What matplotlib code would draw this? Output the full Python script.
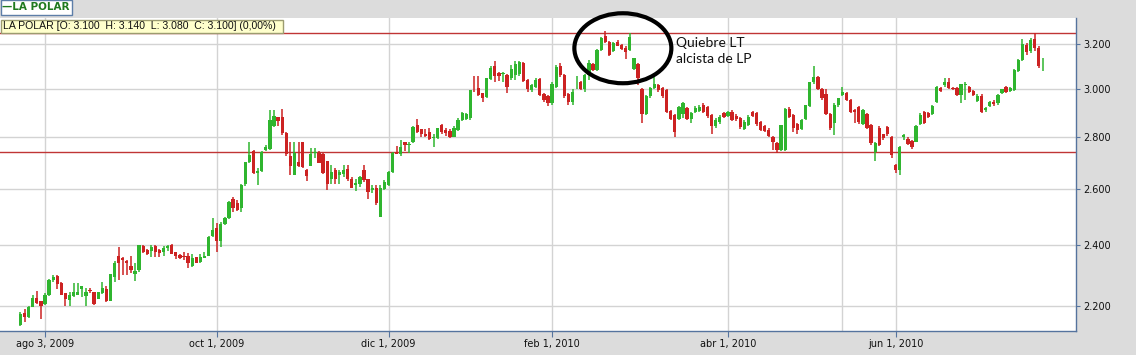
import matplotlib
matplotlib.use("Agg")
import matplotlib.pyplot as plt
import matplotlib.transforms as mtransforms
from matplotlib.patches import Ellipse, Rectangle
from matplotlib.ticker import FixedLocator, NullLocator, FixedFormatter

# daily candles, LA POLAR (jul 2009 - jul 2010)
opens = [
    2.140, 2.176, 2.164, 2.197, 2.223, 2.215, 2.205, 2.234, 2.281, 2.297,
    2.272, 2.239, 2.218, 2.232, 2.235, 2.252, 2.232, 2.248, 2.242, 2.222,
    2.241, 2.252, 2.216, 2.292, 2.363, 2.357, 2.347, 2.330, 2.302, 2.317,
    2.398, 2.383, 2.379, 2.398, 2.383, 2.375, 2.388, 2.400, 2.375, 2.367,
    2.362, 2.362, 2.330, 2.359, 2.343, 2.357, 2.364, 2.431, 2.458, 2.414,
    2.473, 2.494, 2.562, 2.550, 2.530, 2.619, 2.705, 2.747, 2.660, 2.668,
    2.750, 2.756, 2.847, 2.882, 2.882, 2.819, 2.725, 2.655, 2.705, 2.780,
    2.672, 2.688, 2.740, 2.738, 2.736, 2.707, 2.640, 2.672, 2.655, 2.657,
    2.675, 2.640, 2.615, 2.618, 2.672, 2.637, 2.595, 2.605, 2.499, 2.600,
    2.615, 2.665, 2.743, 2.736, 2.780, 2.770, 2.780, 2.850, 2.834, 2.814,
    2.822, 2.797, 2.797, 2.850, 2.830, 2.827, 2.800, 2.830, 2.871, 2.875,
    2.880, 2.997, 3.004, 2.983, 2.966, 3.045, 3.100, 3.073, 3.068, 3.063,
    3.048, 3.063, 3.068, 3.114, 3.040, 2.997, 3.012, 3.045, 2.980, 2.970,
    2.940, 3.010, 3.100, 3.063, 2.980, 2.946, 3.030, 3.030, 3.003, 3.063,
    3.110, 3.085, 3.174, 3.240, 3.212, 3.170, 3.212, 3.197, 3.185, 3.174,
    3.090, 3.110, 3.000, 2.895, 2.970, 3.004, 3.017, 3.004, 2.997, 2.908,
    2.890, 2.877, 2.895, 2.920, 2.875, 2.904, 2.910, 2.934, 2.925, 2.890,
    2.847, 2.862, 2.899, 2.888, 2.904, 2.888, 2.880, 2.835, 2.850, 2.904,
    2.899, 2.862, 2.847, 2.832, 2.800, 2.776, 2.750, 2.750, 2.918, 2.890,
    2.855, 2.835, 2.875, 2.930, 3.030, 3.055, 3.000, 2.980, 2.895, 2.860,
    2.933, 2.975, 2.986, 2.954, 2.912, 2.925, 2.855, 2.895, 2.850, 2.743,
    2.840, 2.812, 2.842, 2.800, 2.690, 2.672, 2.800, 2.794, 2.785, 2.783,
    2.853, 2.903, 2.899, 2.895, 2.946, 3.004, 3.017, 3.032, 3.006, 3.004,
    2.976, 3.020, 3.011, 2.992, 2.950, 2.973, 2.912, 2.929, 2.948, 2.940,
    2.983, 3.011, 2.992, 2.997, 3.080, 3.130, 3.197, 3.170, 3.224, 3.182,
    3.100,
]
highs = [
    2.180, 2.190, 2.200, 2.234, 2.247, 2.216, 2.240, 2.287, 2.300, 2.300,
    2.275, 2.240, 2.245, 2.272, 2.272, 2.263, 2.255, 2.256, 2.244, 2.245,
    2.275, 2.262, 2.303, 2.345, 2.394, 2.360, 2.350, 2.362, 2.338, 2.400,
    2.400, 2.385, 2.400, 2.400, 2.385, 2.397, 2.400, 2.402, 2.375, 2.370,
    2.375, 2.371, 2.370, 2.360, 2.370, 2.375, 2.431, 2.494, 2.478, 2.481,
    2.500, 2.555, 2.572, 2.560, 2.620, 2.705, 2.780, 2.750, 2.680, 2.745,
    2.770, 2.912, 2.912, 2.885, 2.915, 2.820, 2.780, 2.780, 2.780, 2.780,
    2.677, 2.758, 2.758, 2.745, 2.740, 2.708, 2.690, 2.680, 2.672, 2.690,
    2.690, 2.645, 2.640, 2.650, 2.690, 2.640, 2.615, 2.617, 2.615, 2.635,
    2.667, 2.742, 2.765, 2.790, 2.780, 2.780, 2.845, 2.877, 2.836, 2.834,
    2.840, 2.815, 2.840, 2.853, 2.840, 2.834, 2.845, 2.880, 2.902, 2.900,
    2.997, 3.060, 3.060, 2.985, 3.050, 3.100, 3.125, 3.075, 3.075, 3.065,
    3.105, 3.125, 3.125, 3.118, 3.045, 3.025, 3.050, 3.050, 2.985, 2.975,
    3.030, 3.105, 3.115, 3.065, 2.985, 3.000, 3.060, 3.035, 3.065, 3.130,
    3.115, 3.180, 3.235, 3.260, 3.215, 3.210, 3.218, 3.200, 3.190, 3.250,
    3.140, 3.115, 3.005, 2.975, 3.010, 3.060, 3.025, 3.010, 3.000, 2.912,
    2.895, 2.930, 2.945, 2.925, 2.905, 2.930, 2.935, 2.940, 2.930, 2.895,
    2.880, 2.890, 2.905, 2.910, 2.912, 2.895, 2.885, 2.870, 2.890, 2.910,
    2.905, 2.868, 2.850, 2.838, 2.805, 2.780, 2.850, 2.920, 2.925, 2.895,
    2.860, 2.875, 2.935, 3.032, 3.100, 3.060, 3.005, 3.000, 2.900, 2.940,
    2.965, 3.010, 2.990, 2.958, 2.915, 2.930, 2.915, 2.900, 2.855, 2.780,
    2.845, 2.815, 2.845, 2.805, 2.695, 2.765, 2.815, 2.800, 2.790, 2.850,
    2.900, 2.910, 2.905, 2.935, 3.015, 3.010, 3.050, 3.050, 3.010, 3.008,
    3.025, 3.030, 3.015, 2.995, 2.978, 2.978, 2.925, 2.950, 2.955, 2.980,
    3.003, 3.015, 3.008, 3.088, 3.135, 3.224, 3.205, 3.230, 3.253, 3.190,
    3.140,
]
lows = [
    2.137, 2.149, 2.160, 2.195, 2.205, 2.157, 2.203, 2.232, 2.275, 2.252,
    2.233, 2.200, 2.200, 2.228, 2.235, 2.228, 2.200, 2.240, 2.202, 2.220,
    2.238, 2.213, 2.214, 2.276, 2.282, 2.300, 2.300, 2.304, 2.278, 2.310,
    2.372, 2.365, 2.360, 2.360, 2.360, 2.363, 2.380, 2.368, 2.352, 2.352,
    2.350, 2.322, 2.325, 2.338, 2.340, 2.357, 2.362, 2.428, 2.375, 2.392,
    2.470, 2.490, 2.516, 2.520, 2.515, 2.610, 2.700, 2.658, 2.615, 2.665,
    2.745, 2.750, 2.843, 2.845, 2.810, 2.725, 2.655, 2.655, 2.685, 2.680,
    2.630, 2.686, 2.720, 2.698, 2.658, 2.596, 2.620, 2.620, 2.620, 2.645,
    2.630, 2.603, 2.594, 2.607, 2.625, 2.562, 2.585, 2.540, 2.499, 2.595,
    2.612, 2.660, 2.735, 2.728, 2.748, 2.740, 2.776, 2.816, 2.803, 2.800,
    2.790, 2.760, 2.795, 2.815, 2.805, 2.797, 2.800, 2.827, 2.868, 2.870,
    2.870, 2.990, 2.970, 2.944, 2.962, 3.040, 3.030, 3.035, 3.030, 2.986,
    3.040, 3.040, 3.060, 3.030, 2.990, 2.990, 3.005, 2.970, 2.945, 2.930,
    2.935, 3.005, 3.055, 2.965, 2.935, 2.935, 3.000, 2.995, 2.990, 3.040,
    3.080, 3.080, 3.170, 3.205, 3.145, 3.165, 3.190, 3.175, 3.132, 3.170,
    3.085, 3.020, 2.858, 2.890, 2.965, 3.000, 2.990, 2.965, 2.900, 2.870,
    2.800, 2.870, 2.880, 2.870, 2.860, 2.900, 2.905, 2.900, 2.880, 2.815,
    2.840, 2.855, 2.880, 2.885, 2.865, 2.865, 2.835, 2.830, 2.845, 2.885,
    2.845, 2.825, 2.820, 2.800, 2.750, 2.740, 2.745, 2.745, 2.880, 2.820,
    2.815, 2.830, 2.870, 2.925, 3.025, 2.995, 2.955, 2.890, 2.830, 2.810,
    2.925, 2.970, 2.950, 2.900, 2.860, 2.855, 2.850, 2.835, 2.770, 2.708,
    2.765, 2.790, 2.805, 2.720, 2.660, 2.655, 2.790, 2.770, 2.755, 2.780,
    2.850, 2.855, 2.880, 2.890, 2.940, 2.988, 3.012, 3.000, 2.995, 2.970,
    2.940, 2.955, 2.985, 2.970, 2.945, 2.900, 2.905, 2.925, 2.930, 2.935,
    2.978, 2.985, 2.988, 2.993, 3.075, 3.125, 3.150, 3.160, 3.170, 3.095,
    3.080,
]
closes = [
    2.174, 2.164, 2.197, 2.223, 2.208, 2.200, 2.233, 2.281, 2.293, 2.271,
    2.234, 2.221, 2.234, 2.244, 2.245, 2.263, 2.245, 2.246, 2.204, 2.244,
    2.255, 2.216, 2.301, 2.338, 2.338, 2.349, 2.338, 2.315, 2.313, 2.400,
    2.375, 2.369, 2.394, 2.375, 2.374, 2.390, 2.398, 2.370, 2.364, 2.357,
    2.360, 2.338, 2.357, 2.340, 2.360, 2.364, 2.429, 2.452, 2.414, 2.473,
    2.494, 2.552, 2.532, 2.523, 2.615, 2.703, 2.730, 2.660, 2.667, 2.743,
    2.763, 2.871, 2.887, 2.868, 2.819, 2.735, 2.687, 2.737, 2.687, 2.685,
    2.650, 2.736, 2.743, 2.700, 2.660, 2.619, 2.665, 2.638, 2.665, 2.672,
    2.640, 2.606, 2.622, 2.645, 2.634, 2.590, 2.603, 2.548, 2.603, 2.628,
    2.665, 2.738, 2.736, 2.763, 2.770, 2.771, 2.843, 2.822, 2.812, 2.807,
    2.793, 2.798, 2.838, 2.822, 2.817, 2.800, 2.837, 2.871, 2.900, 2.895,
    2.997, 2.995, 2.976, 2.962, 3.050, 3.095, 3.060, 3.058, 3.070, 3.012,
    3.090, 3.112, 3.118, 3.035, 3.003, 3.017, 3.040, 2.976, 2.954, 2.940,
    3.025, 3.096, 3.063, 2.970, 2.946, 2.988, 3.032, 3.003, 3.063, 3.115,
    3.085, 3.174, 3.230, 3.212, 3.150, 3.204, 3.194, 3.180, 3.167, 3.235,
    3.137, 3.047, 2.895, 2.970, 3.004, 3.025, 2.997, 2.970, 2.905, 2.877,
    2.820, 2.925, 2.940, 2.877, 2.899, 2.920, 2.925, 2.904, 2.888, 2.847,
    2.871, 2.884, 2.884, 2.904, 2.871, 2.875, 2.843, 2.862, 2.884, 2.889,
    2.853, 2.832, 2.826, 2.806, 2.780, 2.750, 2.850, 2.918, 2.884, 2.837,
    2.830, 2.871, 2.933, 3.030, 3.055, 3.000, 2.963, 2.895, 2.840, 2.933,
    2.963, 2.990, 2.954, 2.904, 2.904, 2.862, 2.912, 2.840, 2.776, 2.776,
    2.770, 2.796, 2.812, 2.731, 2.672, 2.763, 2.810, 2.773, 2.760, 2.845,
    2.890, 2.860, 2.884, 2.928, 3.011, 2.992, 3.032, 3.004, 3.000, 2.976,
    3.022, 3.022, 2.990, 2.976, 2.973, 2.905, 2.922, 2.944, 2.937, 2.976,
    3.000, 2.990, 3.004, 3.084, 3.130, 3.200, 3.167, 3.220, 3.182, 3.100,
    3.100,
]

# x axis: candle index of the labelled dates
date_ticks = [6, 48, 90, 130, 173, 214]
date_labels = ["ago 3, 2009", "oct 1, 2009", "dic 1, 2009",
               "feb 1, 2010", "abr 1, 2010", "jun 1, 2010"]
extra_vgrid = [201]

price_ticks = [2.2, 2.4, 2.6, 2.8, 3.0, 3.2]
price_labels = ["2.200", "2.400", "2.600", "2.800", "3.000", "3.200"]

resistance = 3.251
support = 2.741

info_text = "LA POLAR [O: 3.100  H: 3.140  L: 3.080  C: 3.100] (0,00%)"
note_text = "Quiebre LT\nalcista de LP"

green = "#2fb52f"
red = "#cc2222"
axis_blue = "#55739e"
grid_col = "#d3d3d3"

W, H = 1136, 355
fig = plt.figure(figsize=(W / 100, H / 100), dpi=100, facecolor="#dcdcdc")
ax = fig.add_axes([0, 24 / H, 1076 / W, 313 / H])
ax.set_facecolor("white")

# candles
for i in range(len(opens)):
    o, h, l, c = opens[i], highs[i], lows[i], closes[i]
    col = green if c >= o else red
    ax.vlines(i, l, h, color=col, lw=1.1, zorder=3)
    ax.bar(i, max(abs(c - o), 0.003), bottom=min(o, c), width=0.8,
           color=col, lw=0, zorder=4)

ax.set_yscale("log")
ax.set_ylim(2.1216, 3.323)
ax.set_xlim(-5.0, 258.1)

ax.yaxis.set_major_locator(FixedLocator(price_ticks))
ax.yaxis.set_major_formatter(FixedFormatter(price_labels))
ax.yaxis.set_minor_locator(NullLocator())
ax.yaxis.tick_right()
ax.set_xticks(date_ticks)
ax.set_xticklabels(date_labels)

ax.grid(True, color=grid_col, lw=1, zorder=0)
for xv in extra_vgrid:
    ax.axvline(xv, color=grid_col, lw=1, zorder=0)

ax.axhline(resistance, color="#c03535", lw=1, zorder=2)
ax.axhline(support, color="#c03535", lw=1, zorder=2)

for s in ["left", "top"]:
    ax.spines[s].set_visible(False)
for s in ["right", "bottom"]:
    ax.spines[s].set_color(axis_blue)
    ax.spines[s].set_linewidth(1)
ax.tick_params(axis="y", direction="out", length=3, color=axis_blue,
               labelsize=7, pad=2, labelcolor="#111111")
ax.tick_params(axis="x", direction="out", length=4, color=axis_blue,
               labelsize=7, pad=1.5, labelcolor="#111111")

# circle around the break
trans = fig.dpi_scale_trans + mtransforms.ScaledTranslation(147.3, 3.182, ax.transData)
ax.add_patch(Ellipse((0, 0), 0.97, 0.70, transform=trans, fill=False,
                     ec="black", lw=3, clip_on=False, zorder=6))
ax.text(160.3, 3.236, note_text, ha="left", va="top", fontsize=10,
        family="Lato", linespacing=1.4, color="#111111", zorder=6)

# header: legend box and info box
fig.patches.append(Rectangle((0.5 / W, (H - 15) / H), 71 / W, 14.5 / H,
                             transform=fig.transFigure, fc="white",
                             ec="#5d7ea8", lw=1))
fig.text(2 / W, (H - 7.5) / H, "\u2014LA POLAR", color="#1f7a1f",
         fontsize=7.5, fontweight="bold", va="center", ha="left")
fig.patches.append(Rectangle((0.5 / W, (H - 33) / H), 282 / W, 13.5 / H,
                             transform=fig.transFigure, fc="#ffffcc",
                             ec="#9c9c70", lw=1, zorder=5))
fig.text(3 / W, (H - 26.3) / H, info_text, color="#111111", fontsize=7.6,
         family="Liberation Sans", va="center", ha="left", zorder=6)

fig.savefig("out.png", dpi=100, facecolor=fig.get_facecolor())
